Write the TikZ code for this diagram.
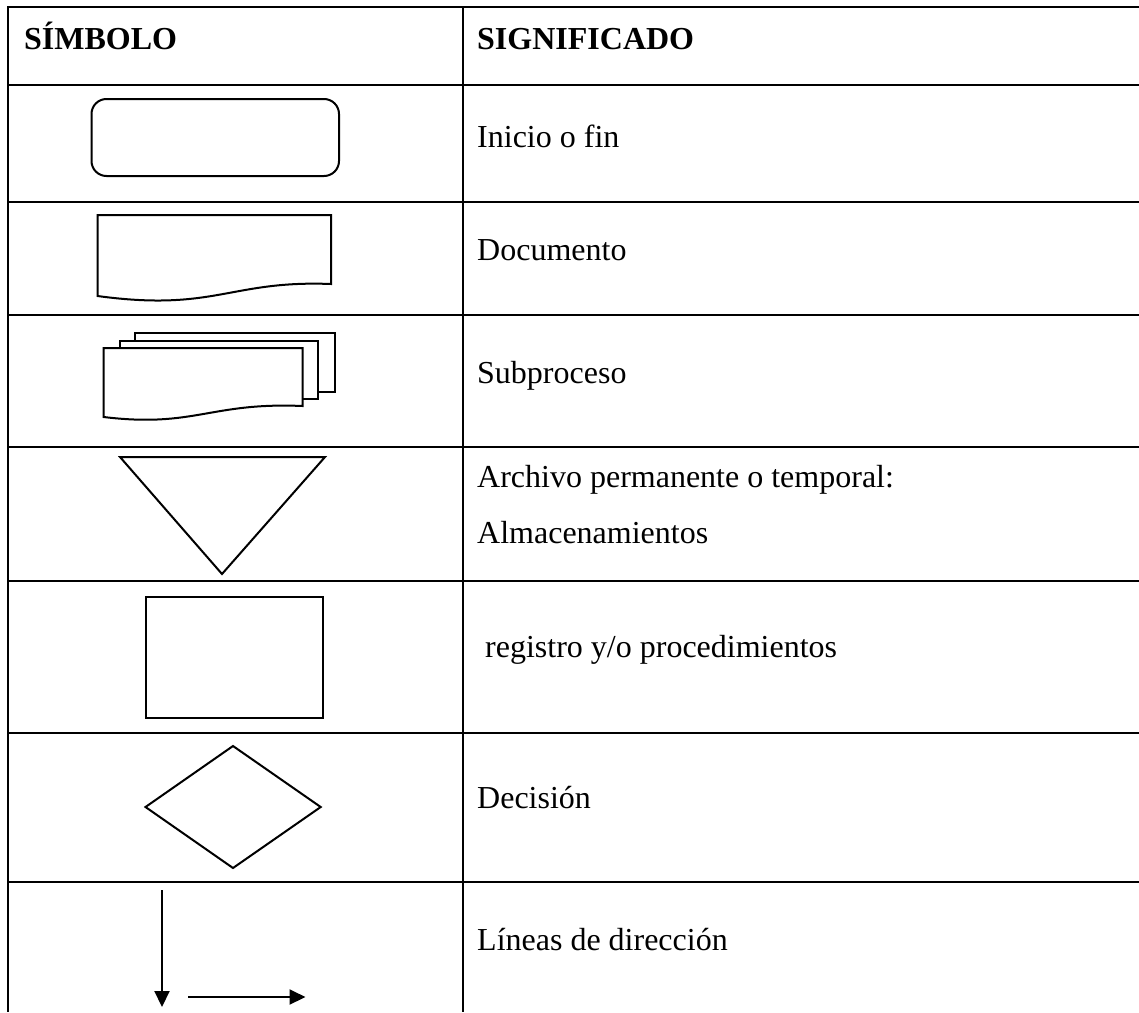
\documentclass[tikz,border=0pt]{standalone}
\usepackage{fontspec}
\setmainfont{Liberation Serif}
\usepackage{tikz}
\usetikzlibrary{arrows.meta,positioning}

\begin{document}
\begin{tikzpicture}[x=1pt,y=-1pt,
	rejilla/.style={line width=2.2pt},
	figura/.style={line width=2pt, fill=white, line join=miter},
	txt/.style={anchor=base west, inner sep=0pt, font=\fontsize{32}{38}\selectfont},
	titulo/.style={txt, font=\fontsize{32}{38}\selectfont\bfseries},
	flecha/.style={line width=2pt, -{Triangle[length=16pt, width=15pt]}}]
	\useasboundingbox (0,0) rectangle (1139,1012);
	% rejilla de la tabla
	\foreach \y in {7,85,202,315,447,581,733,882}
		\draw[rejilla] (7,\y) -- (1139,\y);
	\draw[rejilla] (8,6) -- (8,1012);
	\draw[rejilla] (463,6) -- (463,1012);
	% cabecera
	\node[titulo] (simbolo) at (24,49) {SÍMBOLO};
	\node[titulo] (significado) at (477,49) {SIGNIFICADO};
	% simbolos
	\draw[figura, rounded corners=15pt] (91.5,99) rectangle (339,176);
	\draw[figura] (97.5,215) -- (331,215) -- (331,284)
		.. controls (230,280) and (215,312) .. (97.5,296) -- cycle;
	\draw[figura] (135,333) rectangle (334.5,392);
	\draw[figura] (120,341) rectangle (318,399);
	\draw[figura] (103.6,348) -- (302.5,348) -- (302.5,406)
		.. controls (210,402) and (195,428) .. (103.6,417) -- cycle;
	\draw[figura] (120,457) -- (325,457) -- (222,574) -- cycle;
	\draw[figura] (146,597) rectangle (322.5,718);
	\draw[figura] (145.5,807) -- (233,746) -- (320.7,807) -- (233,868) -- cycle;
	\coordinate (vini) at (162,890);
	\coordinate (vfin) at (162,1007);
	\coordinate (hini) at (188,997);
	\coordinate (hfin) at (305.5,997);
	\draw[flecha] (vini) -- (vfin);
	\draw[flecha] (hini) -- (hfin);
	% significados
	\node[txt] (inicio) at (477,147) {Inicio o fin};
	\node[txt] (documento) at (477,260) {Documento};
	\node[txt] (subproceso) at (477,383) {Subproceso};
	\node[txt] (archivo) at (477,487) {Archivo permanente o temporal:};
	\node[txt] (almacen) at (477,543) {Almacenamientos};
	\node[txt] (registro) at (477,657) {\ registro y/o procedimientos};
	\node[txt] (decision) at (477,808) {Decisión};
	\node[txt] (lineas) at (477,950) {Líneas de dirección};
\end{tikzpicture}
\end{document}
